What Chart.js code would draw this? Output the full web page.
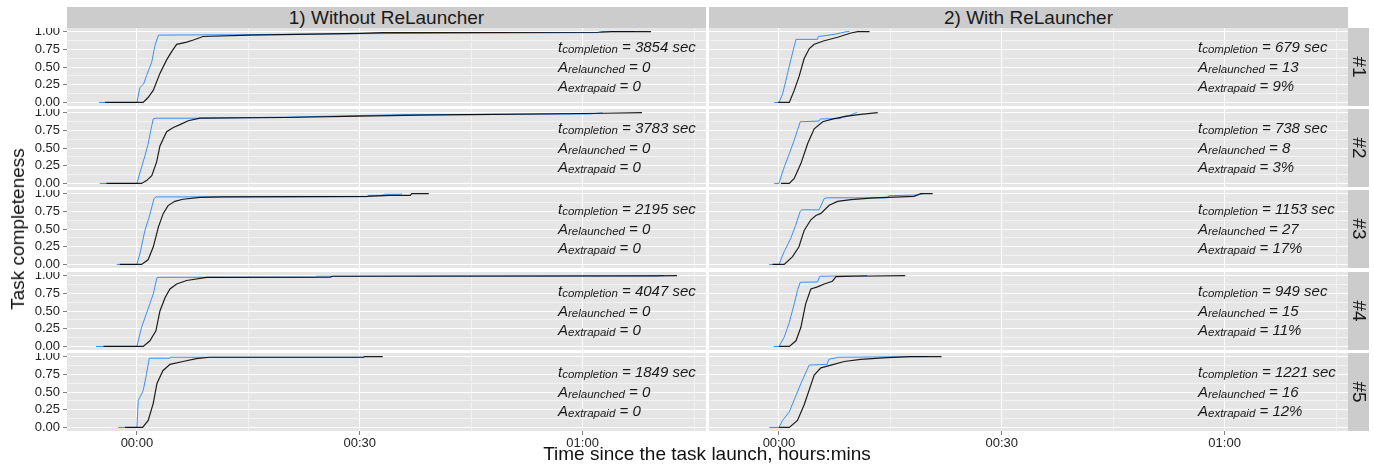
<!DOCTYPE html>
<html>
<head>
<meta charset="utf-8">
<script src="https://cdn.jsdelivr.net/npm/chart.js@4.4.0/dist/chart.umd.min.js"></script>
<style>
  body { margin: 0; background: #fff; font-family: "Liberation Sans", Arial, sans-serif; }
  #wrap { position: relative; width: 1374px; height: 470px; overflow: hidden; }
  canvas { position: absolute; }
  .strip { position: absolute; background: #cccccc; color: #1a1a1a; font-size: 19px;
           display: flex; align-items: center; justify-content: center; white-space: nowrap; }
  .strip.side span { display: inline-block; transform: rotate(90deg); }
  .note { position: absolute; font-style: italic; font-size: 15px; line-height: 18.5px;
          color: #1a1a1a; white-space: nowrap; }
  .note .sub { font-size: 11.5px; position: relative; top: 1px; }
  .title { position: absolute; color: #111; font-size: 19px; white-space: nowrap; }
</style>
</head>
<body>
<div id="wrap"></div>
<script>
// axis setup (minutes since launch / completeness)
const xMin = -9.41, xMax = 76.61, yMin = -0.05, yMax = 1.05;
const xMajor = [0, 30, 60];
const xMajorLabels = ['00:00', '00:30', '01:00'];
const xMinor = [15, 45, 75];
const yMajor = [0, 0.25, 0.5, 0.75, 1];
const yMajorLabels = ['0.00', '0.25', '0.50', '0.75', '1.00'];
const yMinor = [0.125, 0.375, 0.625, 0.875];

const facetCols = ['1) Without ReLauncher', '2) With ReLauncher'];
const facetRows = ['#1', '#2', '#3', '#4', '#5'];

// [minutes, completeness] - blue curve and black curve per run
const without1Blue = [[-5.1,0],[0,0],[0.4,0.21],[0.9,0.26],[1.3,0.38],[2.0,0.57],[2.4,0.79],[2.9,0.95],[13,0.955],[30,0.97],[62,0.985],[62.3,1],[67,1]];
const without1Black = [[-4.3,0],[0.85,0],[1.5,0.07],[2.2,0.17],[3.1,0.41],[4.0,0.60],[4.7,0.72],[5.35,0.82],[6.7,0.85],[7.6,0.88],[8.9,0.93],[15.2,0.95],[30,0.975],[33,0.985],[62.5,0.99],[64,1],[69.2,1]];
const without2Blue = [[-5.0,0],[0,0],[0.63,0.23],[1.08,0.39],[1.5,0.55],[1.85,0.74],[2.2,0.91],[2.6,0.92],[8.5,0.92],[20,0.935],[31,0.96],[35.7,0.97],[61,0.98],[62,0.99],[62.7,0.995]];
const without2Black = [[-4.1,0],[0.63,0],[1.3,0.04],[2.0,0.11],[2.65,0.30],[3.1,0.53],[4.0,0.73],[4.9,0.79],[5.8,0.83],[6.9,0.885],[8.5,0.92],[20,0.93],[30,0.95],[38,0.965],[45,0.97],[63,0.99],[68,1]];
const without3Blue = [[-2.7,0],[0,0],[0.4,0.15],[1.08,0.48],[1.66,0.67],[2.3,0.93],[2.6,0.953],[11.6,0.953],[31,0.955],[31.2,0.975],[33,0.975],[33.3,0.99],[35.5,0.99],[35.7,1]];
const without3Black = [[-2.3,0],[0.63,0],[1.5,0.066],[2.2,0.245],[2.9,0.53],[3.55,0.72],[4.2,0.83],[5.1,0.89],[6.2,0.92],[8.5,0.945],[11.6,0.953],[31,0.96],[34,0.975],[36.8,0.975],[37,1],[39.3,1]];
const without4Blue = [[-5.5,0],[0,0],[0.63,0.27],[1.4,0.5],[2.2,0.74],[2.7,0.97],[3.0,0.975],[24,0.978],[24.2,0.99],[70,0.995],[70.2,1],[71,1]];
const without4Black = [[-4.5,0],[0.85,0],[1.75,0.08],[2.56,0.22],[3.1,0.5],[3.8,0.69],[4.45,0.81],[5.35,0.88],[6.7,0.93],[9.4,0.975],[26,0.978],[26.4,0.99],[70,0.995],[72.7,1]];
const without5Blue = [[-2.5,0],[0,0],[0.18,0.38],[0.85,0.52],[1.3,0.76],[1.66,0.976],[4.45,0.976],[4.5,0.99],[30.4,0.99],[30.7,1]];
const without5Black = [[-1.6,0],[0.77,0],[1.52,0.10],[2.2,0.34],[2.7,0.62],[3.5,0.80],[4.45,0.89],[6.2,0.93],[8.0,0.97],[9.8,0.99],[30.5,0.99],[30.7,1],[33.1,1]];

const with1Blue = [[-0.63,0],[0,0],[0.5,0.12],[0.94,0.31],[1.6,0.60],[2.06,0.79],[2.3,0.89],[5.2,0.89],[5.3,0.93],[7.45,0.96],[8.3,0.98],[9.2,1],[9.5,1]];
const with1Black = [[-0.1,0],[1.4,0],[2.06,0.17],[2.7,0.36],[3.4,0.62],[4.1,0.76],[4.75,0.82],[6.1,0.87],[7.9,0.92],[9.7,0.98],[10.6,1],[12.2,1]];
const with2Blue = [[-0.63,0],[0,0],[0.71,0.23],[1.4,0.42],[2.06,0.61],[2.5,0.75],[2.87,0.87],[5.4,0.88],[5.6,0.91],[8.3,0.915],[8.5,0.94],[9.5,0.96],[10.5,1]];
const with2Black = [[0.27,0],[1.4,0],[2.06,0.07],[2.96,0.28],[3.86,0.56],[4.75,0.77],[5.9,0.87],[7.45,0.915],[9.2,0.95],[11,0.975],[13.3,1]];
const with3Blue = [[-1.3,0],[0,0],[0.71,0.18],[1.6,0.37],[2.25,0.55],[2.87,0.75],[3.1,0.77],[5.4,0.77],[6.1,0.93],[6.5,0.94],[14.6,0.94],[14.8,0.97],[18.7,0.98],[19.5,1]];
const with3Black = [[-0.85,0],[0.71,0],[1.84,0.11],[2.7,0.25],[3.4,0.48],[4.3,0.63],[4.98,0.69],[5.65,0.72],[6.77,0.835],[7.9,0.89],[9.7,0.915],[12.8,0.94],[18.2,0.96],[19.1,1],[20.7,1]];
const with4Blue = [[-0.72,0],[0,0],[0.71,0.13],[1.4,0.34],[2.06,0.6],[2.5,0.79],[2.87,0.905],[5.2,0.91],[5.5,0.99],[11.9,1]];
const with4Black = [[0,0],[1.4,0],[2.3,0.08],[2.96,0.27],[3.6,0.6],[4.3,0.81],[5.2,0.84],[6.1,0.88],[7.2,0.92],[7.7,0.985],[10,0.99],[17,1]];
const with5Blue = [[-1.3,0],[0,0],[0.5,0.10],[1.4,0.22],[2.06,0.39],[2.96,0.62],[4.08,0.88],[6.5,0.89],[6.7,0.96],[8,0.99],[20,1]];
const with5Black = [[0,0],[1.4,0],[2.5,0.10],[3.4,0.32],[4.08,0.53],[4.75,0.74],[5.65,0.84],[7,0.88],[8.8,0.93],[11,0.96],[14.6,0.985],[17.8,1],[21.9,1]];

const blueRuns = [[without1Blue, with1Blue], [without2Blue, with2Blue], [without3Blue, with3Blue], [without4Blue, with4Blue], [without5Blue, with5Blue]];
const blackRuns = [[without1Black, with1Black], [without2Black, with2Black], [without3Black, with3Black], [without4Black, with4Black], [without5Black, with5Black]];

const completionSec = [[3854, 679], [3783, 738], [2195, 1153], [4047, 949], [1849, 1221]];
const relaunched = [[0, 13], [0, 8], [0, 27], [0, 15], [0, 16]];
const extraPaid = [['0', '9%'], ['0', '3%'], ['0', '17%'], ['0', '11%'], ['0', '12%']];

// layout
const rowTop = [28, 109, 190, 272, 353];
const panelH = 78;
const colLeft = [67, 709];
const panelW = 639;
const yAxisW = 67, xAxisH = 26;
const family = '"Liberation Sans", Arial, sans-serif';

const wrap = document.getElementById('wrap');

const panelBg = {
  id: 'panelBg',
  beforeDraw(chart) {
    const a = chart.chartArea, c = chart.ctx;
    c.save();
    c.fillStyle = '#e5e5e5';
    c.fillRect(a.left, a.top, a.right - a.left, a.bottom - a.top);
    c.restore();
  }
};

function toXY(pts) { return pts.map(p => ({ x: p[0], y: p[1] })); }

function makePanel(row, col) {
  const showY = col === 0, showX = row === 4;
  const cv = document.createElement('canvas');
  const left = showY ? 0 : colLeft[col];
  const w = panelW + (showY ? yAxisW : 0);
  const h = panelH + (showX ? xAxisH : 0);
  cv.width = w; cv.height = h;
  cv.style.left = left + 'px'; cv.style.top = rowTop[row] + 'px';
  cv.style.width = w + 'px'; cv.style.height = h + 'px';
  wrap.appendChild(cv);

  new Chart(cv, {
    type: 'line',
    data: {
      datasets: [
        { data: toXY(blackRuns[row][col]), borderColor: 'rgba(0,0,0,0.88)', borderWidth: 1.2, order: 0 },
        { data: toXY(blueRuns[row][col]), borderColor: '#3d8ff0', borderWidth: 1, order: 1 }
      ]
    },
    options: {
      responsive: false, animation: false,
      layout: { padding: 0 },
      elements: { point: { radius: 0 }, line: { tension: 0 } },
      plugins: { legend: { display: false }, tooltip: { enabled: false } },
      scales: {
        x: {
          type: 'linear', min: xMin, max: xMax,
          afterBuildTicks: s => { s.ticks = xMajor.concat(xMinor).map(v => ({ value: v })); },
          afterFit: s => { s.height = showX ? xAxisH : 0; s.paddingLeft = 0; s.paddingRight = 0; },
          border: { display: false },
          grid: {
            drawTicks: showX, tickLength: 4,
            color: c => xMajor.includes(c.tick.value) ? '#ffffff' : '#f2f2f2',
            tickColor: c => xMajor.includes(c.tick.value) ? '#7f7f7f' : 'rgba(0,0,0,0)',
            lineWidth: 1
          },
          ticks: {
            display: showX, autoSkip: false, maxRotation: 0, padding: 1,
            color: '#222', font: { size: 13, family },
            callback: v => { const i = xMajor.indexOf(v); return i < 0 ? '' : xMajorLabels[i]; }
          }
        },
        y: {
          type: 'linear', min: yMin, max: yMax,
          afterBuildTicks: s => { s.ticks = yMajor.concat(yMinor).map(v => ({ value: v })); },
          afterFit: s => { s.width = showY ? yAxisW : 0; s.paddingTop = 0; s.paddingBottom = 0; },
          border: { display: false },
          grid: {
            drawTicks: showY, tickLength: 4,
            color: c => yMajor.includes(c.tick.value) ? '#ffffff' : '#f2f2f2',
            tickColor: c => yMajor.includes(c.tick.value) ? '#7f7f7f' : 'rgba(0,0,0,0)',
            lineWidth: 1
          },
          ticks: {
            display: showY, autoSkip: false, padding: 3,
            color: '#222', font: { size: 13, family },
            callback: v => { const i = yMajor.indexOf(v); return i < 0 ? '' : yMajorLabels[i]; }
          }
        }
      }
    },
    plugins: [panelBg]
  });

  const note = document.createElement('div');
  note.className = 'note';
  note.style.left = (col === 0 ? 558 : 1198) + 'px';
  note.style.top = (rowTop[row] + 10) + 'px';
  note.innerHTML =
    '<div>t<span class="sub">completion</span> = ' + completionSec[row][col] + ' sec</div>' +
    '<div>A<span class="sub">relaunched</span> = ' + relaunched[row][col] + '</div>' +
    '<div>A<span class="sub">extrapaid</span> = ' + extraPaid[row][col] + '</div>';
  wrap.appendChild(note);
}

for (let r = 0; r < 5; r++) {
  for (let c = 0; c < 2; c++) makePanel(r, c);
}

facetCols.forEach((t, c) => {
  const d = document.createElement('div');
  d.className = 'strip';
  d.style.left = colLeft[c] + 'px'; d.style.top = '7px';
  d.style.width = panelW + 'px'; d.style.height = '21px';
  d.textContent = t;
  wrap.appendChild(d);
});

facetRows.forEach((t, r) => {
  const d = document.createElement('div');
  d.className = 'strip side';
  d.style.left = '1348px'; d.style.top = rowTop[r] + 'px';
  d.style.width = '21px'; d.style.height = panelH + 'px';
  d.innerHTML = '<span>' + t + '</span>';
  wrap.appendChild(d);
});

const xt = document.createElement('div');
xt.className = 'title';
xt.textContent = 'Time since the task launch, hours:mins';
xt.style.left = '707px'; xt.style.top = '454px';
xt.style.transform = 'translate(-50%,-50%)';
wrap.appendChild(xt);

const yt = document.createElement('div');
yt.className = 'title';
yt.textContent = 'Task completeness';
yt.style.left = '18px'; yt.style.top = '229px';
yt.style.transform = 'translate(-50%,-50%) rotate(-90deg)';
wrap.appendChild(yt);
</script>
</body>
</html>
